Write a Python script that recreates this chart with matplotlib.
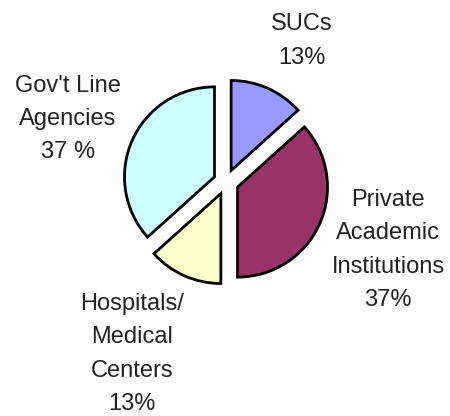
import matplotlib
matplotlib.use("Agg")
import matplotlib.pyplot as plt

categories = ["SUCs", "Private\nAcademic\nInstitutions", "Hospitals/\nMedical\nCenters", "Gov't Line\nAgencies"]
values = [4, 11, 4, 11]
pct_labels = ["13%", "37%", "13%", "37 %"]
colors = ["#9999FF", "#993366", "#FFFFCC", "#CCFFFF"]

W, H = 450, 416
fig = plt.figure(figsize=(W / 100, H / 100), dpi=100)
ax = fig.add_axes([0, 0, 1, 1])

cx, cy, R = 226, 182, 90  # pixel layout
wedges, _ = ax.pie(values, colors=colors, startangle=90, counterclock=False,
                   explode=[0.14] * 4,
                   wedgeprops=dict(edgecolor="black", linewidth=2))
ax.set_aspect("auto")
ax.set_xlim(-cx / R, (W - cx) / R)
ax.set_ylim(-(H - cy) / R, cy / R)
ax.axis("off")

label_pos = [(302, 41), (388, 250), (132, 354), (68, 119)]
font = dict(family=["Liberation Sans", "DejaVu Sans"], fontsize=17, color="#222222",
            ha="center", va="center", linespacing=1.65)
for cat, pct, (px, py) in zip(categories, pct_labels, label_pos):
    fig.text(px / W, 1 - py / H, f"{cat}\n{pct}", **font)

fig.savefig("out.png", dpi=100)
